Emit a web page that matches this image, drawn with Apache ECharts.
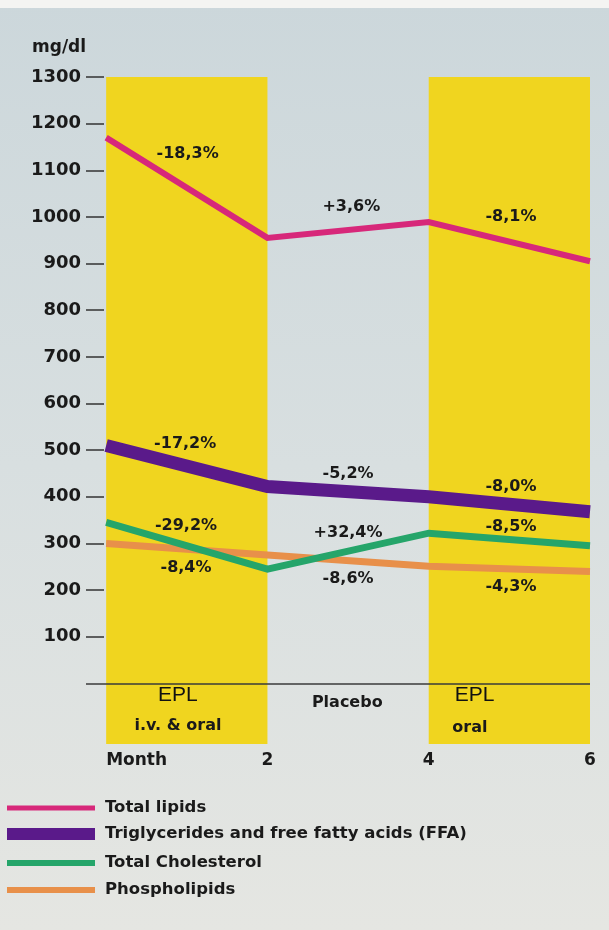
<!DOCTYPE html>
<html><head><meta charset="utf-8">
<script src="https://cdn.jsdelivr.net/npm/echarts@6/dist/echarts.min.js"></script>
<style>html,body{margin:0;padding:0;background:#dde2e1;} #c{width:609px;height:930px;}</style>
</head><body><div id="c"></div>
<script>
// ---- data ----
const months = [0, 2, 4, 6];
const xTickLabels = ['Month', '2', '4', '6'];
const yTicks = [100, 200, 300, 400, 500, 600, 700, 800, 900, 1000, 1100, 1200, 1300];
const seriesNames = ['Total lipids', 'Triglycerides and free fatty acids (FFA)', 'Total Cholesterol', 'Phospholipids'];
const totalLipids   = [1170, 955, 989, 905];
const triglycerides = [510, 422, 400, 368];
const cholesterol   = [345, 245, 322, 295];
const phospholipids = [300, 275, 251, 240];
const treatmentPeriods = [[0, 2], [4, 6]];   // EPL treatment months
const yTop = 1300;
// percentage change annotations: [month, mg/dl, text]
const pctTotalLipids = [[1.01, 1135, '-18,3%'], [3.04, 1021, '+3,6%'], [5.02, 1000, '-8,1%']];
const pctTriglycerides = [[0.98, 514, '-17,2%'], [3.0, 450, '-5,2%'], [5.02, 422, '-8,0%']];
const pctCholesterol = [[0.99, 338, '-29,2%'], [3.0, 323, '+32,4%'], [5.02, 336, '-8,5%']];
const pctPhospholipids = [[0.99, 248, '-8,4%'], [3.0, 225, '-8,6%'], [5.02, 207, '-4,3%']];
// phase annotations: [month, mg/dl, text, style]
const phaseTexts = [[0.89, -25, 'EPL', 'big'], [0.89, -91, 'i.v. & oral', 'small'],
                    [2.99, -42, 'Placebo', 'small'],
                    [4.57, -25, 'EPL', 'big'], [4.51, -96, 'oral', 'small']];

// ---- styling ----
const FONT = 'DejaVu Sans';
const TXT = '#1a1a1a';
const colors = ['#d7287a', '#5a1a8a', '#25a56a', '#e8904a'];
const widths = [6, 13, 7, 7];
const yMin = -130;

const chart = echarts.init(document.getElementById('c'), null, {renderer: 'canvas'});
const seriesData = [totalLipids, triglycerides, cholesterol, phospholipids];
const order = [3, 2, 1, 0];

const lineSeries = order.map(i => ({
  name: seriesNames[i], type: 'line', xAxisIndex: 0,
  data: months.map((m, k) => [m, seriesData[i][k]]),
  showSymbol: false, symbol: 'none',
  color: colors[i],
  itemStyle: {color: colors[i]},
  lineStyle: {color: colors[i], width: widths[i], cap: 'butt', join: 'miter'},
  z: 3 + (3 - i), silent: true, animation: false
}));

const allPct = [].concat(pctTotalLipids, pctTriglycerides, pctCholesterol, pctPhospholipids);

const option = {
  animation: false,
  backgroundColor: new echarts.graphic.LinearGradient(0, 0, 0, 1, [
    {offset: 0, color: '#ccd7db'}, {offset: 0.5, color: '#d8dfe0'}, {offset: 1, color: '#e5e6e2'}]),
  graphic: [{type: 'rect', left: 0, top: 0, shape: {width: 609, height: 8}, style: {fill: '#f4f4f2'}}],
  title: {text: 'mg/dl', left: 27, top: 34, textStyle: {fontFamily: FONT, fontWeight: 'bold', fontSize: 17, color: TXT}},
  grid: {left: 86, right: 19, top: 77, bottom: 186},
  xAxis: [{
    type: 'value', min: -0.25, max: 6, position: 'bottom',
    axisLine: {show: false, onZero: false}, axisTick: {show: false}, splitLine: {show: false},
    axisLabel: {customValues: months.slice(1), margin: 8, fontFamily: FONT, fontWeight: 'bold', fontSize: 17, color: TXT,
      formatter: v => xTickLabels[months.indexOf(v)]}
  }, {
    type: 'value', min: -0.25, max: 6, position: 'bottom',
    axisLine: {show: false, onZero: false}, axisTick: {show: false}, splitLine: {show: false},
    axisLabel: {customValues: [months[0]], margin: 8, align: 'left', fontFamily: FONT, fontWeight: 'bold', fontSize: 17, color: TXT,
      formatter: v => xTickLabels[months.indexOf(v)]}
  }],
  yAxis: {
    type: 'value', min: yMin, max: yTop,
    axisLine: {show: false, onZero: false}, splitLine: {show: false},
    axisTick: {show: true, inside: true, length: 18, customValues: yTicks, lineStyle: {color: '#333', width: 1.5}},
    axisLabel: {customValues: yTicks, margin: 5, fontFamily: FONT, fontWeight: 'bold', fontSize: 18, color: TXT,
      formatter: v => String(v)}
  },
  legend: seriesNames.map((n, i) => ({
    data: [n], left: 7, top: [799, 825, 854, 881][i], orient: 'vertical',
    itemWidth: 88, itemHeight: widths[i] - 1, icon: 'rect', selectedMode: false, padding: 0,
    itemStyle: {color: colors[i]},
    textStyle: {fontFamily: FONT, fontWeight: 'bold', fontSize: 16.5, color: TXT, padding: [0, 0, 0, 5], lineHeight: 18}
  })),
  series: [{
    name: 'bands', type: 'line', data: [], z: 1, silent: true,
    markArea: {silent: true, itemStyle: {color: '#f0d51f', opacity: 1},
      data: treatmentPeriods.map(p => [{xAxis: p[0], yAxis: yMin}, {xAxis: p[1], yAxis: yTop}])},
    markLine: {silent: true, symbol: ['none', 'none'], label: {show: false},
      lineStyle: {color: '#3a3a3a', width: 1.5, type: 'solid'}, data: [{yAxis: 0}]}
  }].concat(lineSeries).concat([{
    type: 'scatter', symbolSize: 0, z: 10, silent: true, itemStyle: {opacity: 1},
    data: allPct.map(d => ({value: [d[0], d[1]], label: {formatter: d[2]}})),
    label: {show: true, position: 'inside', fontFamily: FONT, fontWeight: 'bold', fontSize: 16, color: TXT}
  }, {
    type: 'scatter', symbolSize: 0, z: 10, silent: true, itemStyle: {opacity: 1},
    data: phaseTexts.map(d => ({value: [d[0], d[1]], label: d[3] === 'big'
      ? {formatter: d[2], fontFamily: 'Liberation Sans', fontWeight: 'normal', fontSize: 21, color: '#111'}
      : {formatter: d[2], fontFamily: FONT, fontWeight: 'bold', fontSize: 16, color: TXT}})),
    label: {show: true, position: 'inside'}
  }])
};
chart.setOption(option);
</script>
</body></html>
